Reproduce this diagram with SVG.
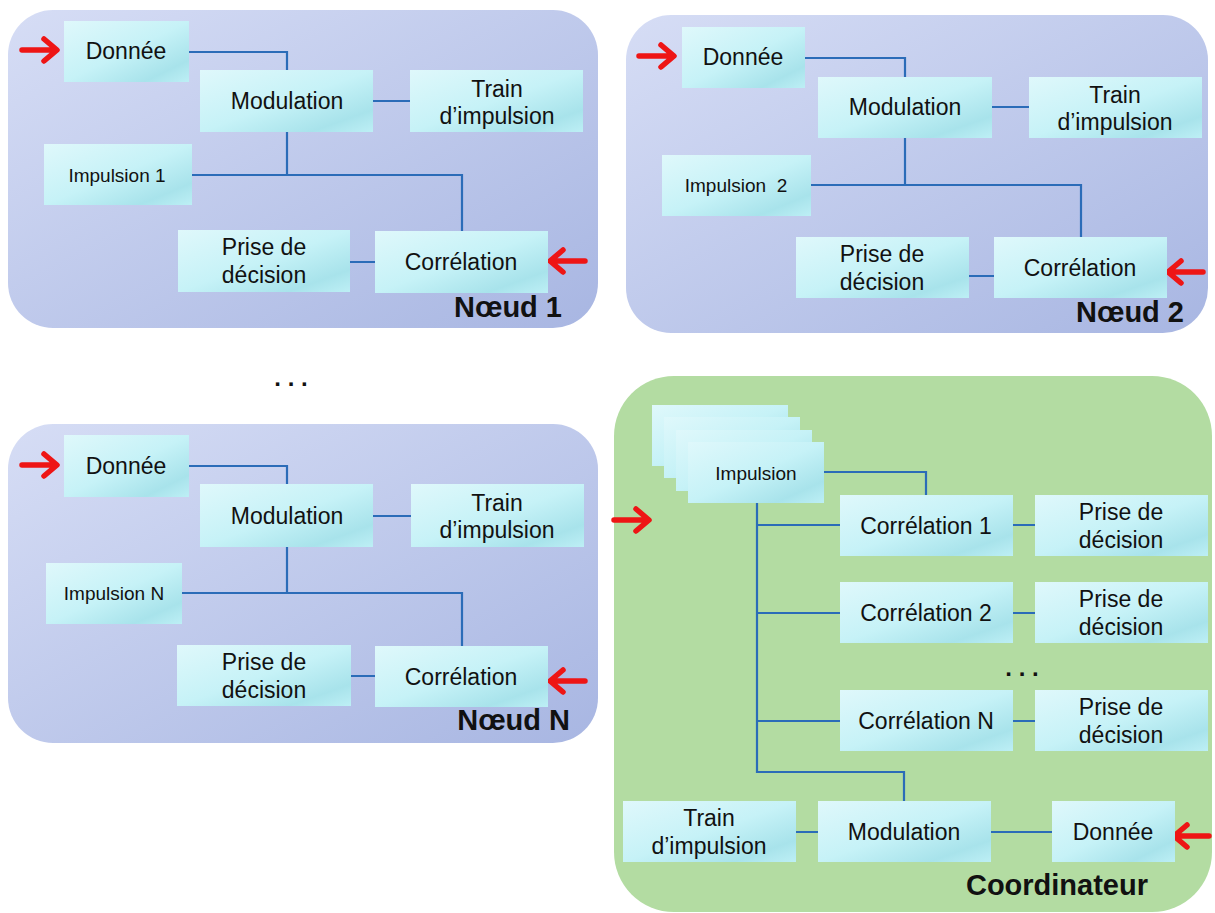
<svg xmlns="http://www.w3.org/2000/svg" xmlns:xlink="http://www.w3.org/1999/xlink" width="1215" height="913" viewBox="0 0 1215 913">
<defs>
<linearGradient id="gPanel" x1="0" y1="0" x2="1" y2="1">
<stop offset="0" stop-color="#d6ddf5"/>
<stop offset="1" stop-color="#a8b6e2"/>
</linearGradient>
<linearGradient id="gBox" x1="0" y1="0" x2="1" y2="1">
<stop offset="0" stop-color="#dff8fb"/>
<stop offset="0.5" stop-color="#c6f2f7"/>
<stop offset="0.82" stop-color="#a8e3eb"/>
<stop offset="1" stop-color="#bdeff5"/>
</linearGradient>
<path id="arrR" d="M-36,0 L-4,0 M-14,-11 L-1,0 L-14,11"/>
</defs>
<style>
.panel{fill:url(#gPanel)}
.coord{fill:#b3dca2}
.box{fill:url(#gBox)}
.lbl{font-family:"Liberation Sans",Arial,sans-serif;font-size:23px;fill:#111;text-anchor:middle}
.sm{font-size:19px}
.ttl{font-family:"Liberation Sans",Arial,sans-serif;font-size:29px;font-weight:bold;fill:#111;text-anchor:end}
.dots{font-family:"Liberation Sans",Arial,sans-serif;font-size:24px;font-weight:bold;fill:#111;text-anchor:middle}
.con{fill:none;stroke:#2b6cb8;stroke-width:2.2}
.arr{fill:none;stroke:#ee1515;stroke-width:5.5;stroke-linecap:round;stroke-linejoin:round}
</style>
<rect width="1215" height="913" fill="#ffffff"/>

<!-- Panels -->
<g id="panel-noeud1"><rect class="panel" x="8" y="10" width="590" height="318" rx="45"/><text class="ttl" x="562" y="317">Nœud 1</text></g>
<g id="panel-noeud2"><rect class="panel" x="626" y="15" width="582" height="318" rx="45"/><text class="ttl" x="1184" y="322">Nœud 2</text></g>
<g id="panel-noeudN"><rect class="panel" x="8" y="424" width="590" height="319" rx="45"/><text class="ttl" x="570" y="730">Nœud N</text></g>
<g id="panel-coord"><rect class="coord" x="614" y="376" width="598" height="536" rx="60"/><text class="ttl" x="1148" y="895">Coordinateur</text></g>

<text class="dots" x="291" y="386">. . .</text>
<text class="dots" x="1022" y="676">. . .</text>

<!-- Connectors -->
<g id="connectors">
<path class="con" d="M189,52 H287 V70 M287,132 V175 M192,175 H462 V231 M373,101 H410 M350,262 H375"/>
<path class="con" d="M805,58 H905 V77 M905,138 V185 M811,185 H1081 V237 M992,107 H1029 M969,276 H994"/>
<path class="con" d="M189,466 H287 V484 M287,547 V593 M182,593 H462 V646 M373,516 H411 M351,676 H375"/>
<path class="con" d="M824,472 H926 V495 M757,503 V772 H904 V801 M757,525 H840 M757,613 H840 M757,721 H840 M1013,525 H1035 M1013,613 H1035 M1013,721 H1035 M796,832 H818 M991,832 H1052"/>
</g>

<!-- Red input arrows -->
<g id="arrows">
<use xlink:href="#arrR" class="arr" transform="translate(58,50)"/>
<use xlink:href="#arrR" class="arr" transform="translate(549,261) scale(-1,1)"/>
<use xlink:href="#arrR" class="arr" transform="translate(675,56)"/>
<use xlink:href="#arrR" class="arr" transform="translate(1167,272) scale(-1,1)"/>
<use xlink:href="#arrR" class="arr" transform="translate(58,465)"/>
<use xlink:href="#arrR" class="arr" transform="translate(549,681) scale(-1,1)"/>
<use xlink:href="#arrR" class="arr" transform="translate(650,520)"/>
<use xlink:href="#arrR" class="arr" transform="translate(1173,836) scale(-1,1)"/>
</g>

<!-- Noeud 1 -->
<g id="n1-donnee"><rect class="box" x="64" y="21" width="125" height="61"/><text class="lbl" x="126" y="59">Donnée</text></g>
<g id="n1-modulation"><rect class="box" x="200" y="70" width="173" height="62"/><text class="lbl" x="287" y="109">Modulation</text></g>
<g id="n1-train"><rect class="box" x="410" y="70" width="173" height="62"/><text class="lbl" x="497" y="97">Train</text><text class="lbl" x="497" y="124">d’impulsion</text></g>
<g id="n1-impulsion"><rect class="box" x="44" y="144" width="148" height="61"/><text class="lbl sm" x="117" y="182">Impulsion 1</text></g>
<g id="n1-prise"><rect class="box" x="178" y="230" width="172" height="62"/><text class="lbl" x="264" y="255">Prise de</text><text class="lbl" x="264" y="283">décision</text></g>
<g id="n1-correlation"><rect class="box" x="375" y="231" width="173" height="62"/><text class="lbl" x="461" y="270">Corrélation</text></g>

<!-- Noeud 2 -->
<g id="n2-donnee"><rect class="box" x="682" y="27" width="123" height="61"/><text class="lbl" x="743" y="65">Donnée</text></g>
<g id="n2-modulation"><rect class="box" x="818" y="77" width="174" height="61"/><text class="lbl" x="905" y="115">Modulation</text></g>
<g id="n2-train"><rect class="box" x="1029" y="77" width="173" height="61"/><text class="lbl" x="1115" y="103">Train</text><text class="lbl" x="1115" y="130">d’impulsion</text></g>
<g id="n2-impulsion"><rect class="box" x="662" y="155" width="149" height="61"/><text class="lbl sm" x="736" y="192" xml:space="preserve">Impulsion  2</text></g>
<g id="n2-prise"><rect class="box" x="796" y="237" width="173" height="61"/><text class="lbl" x="882" y="262">Prise de</text><text class="lbl" x="882" y="290">décision</text></g>
<g id="n2-correlation"><rect class="box" x="994" y="237" width="173" height="61"/><text class="lbl" x="1080" y="276">Corrélation</text></g>

<!-- Noeud N -->
<g id="nN-donnee"><rect class="box" x="64" y="435" width="125" height="62"/><text class="lbl" x="126" y="474">Donnée</text></g>
<g id="nN-modulation"><rect class="box" x="200" y="484" width="173" height="63"/><text class="lbl" x="287" y="524">Modulation</text></g>
<g id="nN-train"><rect class="box" x="411" y="484" width="173" height="63"/><text class="lbl" x="497" y="511">Train</text><text class="lbl" x="497" y="538">d’impulsion</text></g>
<g id="nN-impulsion"><rect class="box" x="46" y="563" width="136" height="61"/><text class="lbl sm" x="114" y="600">Impulsion N</text></g>
<g id="nN-prise"><rect class="box" x="177" y="645" width="174" height="61"/><text class="lbl" x="264" y="670">Prise de</text><text class="lbl" x="264" y="698">décision</text></g>
<g id="nN-correlation"><rect class="box" x="375" y="646" width="173" height="61"/><text class="lbl" x="461" y="685">Corrélation</text></g>

<!-- Coordinateur -->
<g id="c-impulsion">
<rect class="box" x="652" y="405" width="136" height="61"/>
<rect class="box" x="664" y="417" width="136" height="61"/>
<rect class="box" x="676" y="430" width="136" height="61"/>
<rect class="box" x="688" y="442" width="136" height="61"/>
<text class="lbl sm" x="756" y="480">Impulsion</text>
</g>
<g id="c-corr1"><rect class="box" x="840" y="495" width="173" height="61"/><text class="lbl" x="926" y="534">Corrélation 1</text></g>
<g id="c-prise1"><rect class="box" x="1035" y="495" width="173" height="61"/><text class="lbl" x="1121" y="520">Prise de</text><text class="lbl" x="1121" y="548">décision</text></g>
<g id="c-corr2"><rect class="box" x="840" y="582" width="173" height="61"/><text class="lbl" x="926" y="621">Corrélation 2</text></g>
<g id="c-prise2"><rect class="box" x="1035" y="582" width="173" height="61"/><text class="lbl" x="1121" y="607">Prise de</text><text class="lbl" x="1121" y="635">décision</text></g>
<g id="c-corrN"><rect class="box" x="840" y="690" width="173" height="61"/><text class="lbl" x="926" y="729">Corrélation N</text></g>
<g id="c-priseN"><rect class="box" x="1035" y="690" width="173" height="61"/><text class="lbl" x="1121" y="715">Prise de</text><text class="lbl" x="1121" y="743">décision</text></g>
<g id="c-train"><rect class="box" x="623" y="801" width="173" height="61"/><text class="lbl" x="709" y="826">Train</text><text class="lbl" x="709" y="854">d’impulsion</text></g>
<g id="c-modulation"><rect class="box" x="818" y="801" width="173" height="61"/><text class="lbl" x="904" y="840">Modulation</text></g>
<g id="c-donnee"><rect class="box" x="1052" y="801" width="123" height="61"/><text class="lbl" x="1113" y="840">Donnée</text></g>
</svg>
